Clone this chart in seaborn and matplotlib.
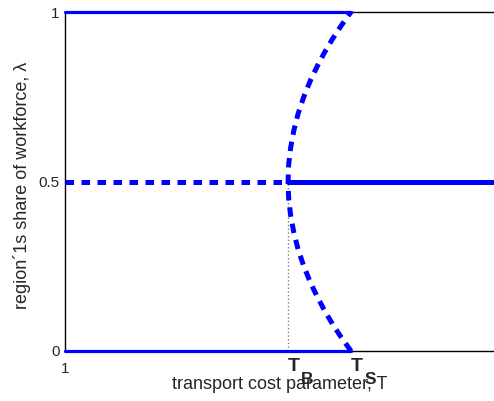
import matplotlib
matplotlib.use('Agg')
import matplotlib.pyplot as plt
import seaborn as sns
import pandas as pd

# tomahawk diagram values
t_min, t_max = 1.0, 2.5
t_break = 1.78     # T_B
t_sustain = 2.0    # T_S

# unstable interior equilibria
lam_curve = [0.0, 0.04, 0.08, 0.12, 0.16, 0.2, 0.25, 0.3, 0.35, 0.4, 0.45, 0.5,
             0.55, 0.6, 0.65, 0.7, 0.75, 0.8, 0.84, 0.88, 0.92, 0.96, 1.0]
t_curve = [2.0, 1.966, 1.935, 1.907, 1.882, 1.859, 1.835, 1.815, 1.8, 1.789, 1.782, 1.78,
           1.782, 1.789, 1.8, 1.815, 1.835, 1.859, 1.882, 1.907, 1.935, 1.966, 2.0]

y_ticks = [0, 0.5, 1]
y_ticklabels = ['0', '0.5', '1']

sns.set_style('white')
plt.rcParams['font.family'] = ['Liberation Sans', 'DejaVu Sans']

fig = plt.figure(figsize=(4.94, 4.01), dpi=100)
ax = fig.add_axes([65 / 494, 50 / 401, 1 - 65 / 494, 339 / 401])
blue = '#0000ff'
dash = (0, (1.7, 1.5))

# core-periphery (stable)
for lam in (0, 1):
    sns.lineplot(x=[t_min, t_sustain], y=[lam, lam], ax=ax, color=blue, lw=2.3,
                 clip_on=False, zorder=4)
# symmetric equilibrium: unstable then stable
sns.lineplot(x=[t_min, t_break], y=[0.5, 0.5], ax=ax, color=blue, lw=3.6,
             linestyle=dash, zorder=4)
sns.lineplot(x=[t_break, t_max], y=[0.5, 0.5], ax=ax, color=blue, lw=3.6,
             clip_on=False, zorder=4)
# interior unstable equilibria
curve = pd.DataFrame({'T': t_curve, 'lam': lam_curve})
sns.lineplot(data=curve, x='T', y='lam', sort=False, estimator=None, ax=ax,
             color=blue, lw=3.6, linestyle=(0, (1.9, 1.4)), clip_on=False, zorder=5)
# guide at T_B
ax.plot([t_break, t_break], [0, 0.5], color='#808080', lw=1, linestyle=':', zorder=3)

ax.set_xlim(t_min, t_max)
ax.set_ylim(0, 1)
ax.set_yticks(y_ticks)
ax.set_yticklabels(y_ticklabels, fontsize=11)
ax.set_xticks([t_min])
ax.set_xticklabels(['1'], fontsize=11)
ax.tick_params(axis='y', length=0, pad=4)
ax.tick_params(axis='x', length=0, pad=8)

# T_B and T_S markers under the axis
for t, sub in ((t_break, 'B'), (t_sustain, 'S')):
    ax.annotate('T', xy=(t, 0), xytext=(0, -5), textcoords='offset points',
                fontsize=14, fontweight='bold', ha='left', va='top')
    ax.annotate(sub, xy=(t, 0), xytext=(9.5, -15), textcoords='offset points',
                fontsize=12.5, fontweight='bold', ha='left', va='top')

ax.set_xlabel('transport cost parameter, T', fontsize=13, labelpad=0)
ax.set_ylabel('region´1s share of workforce, λ', fontsize=13, labelpad=5)
ax.yaxis.label.set_y(0.49)

for s in ('left', 'bottom', 'top'):
    ax.spines[s].set_color('black')
    ax.spines[s].set_linewidth(1)
ax.spines['right'].set_visible(False)

fig.savefig('out.png', dpi=100)
